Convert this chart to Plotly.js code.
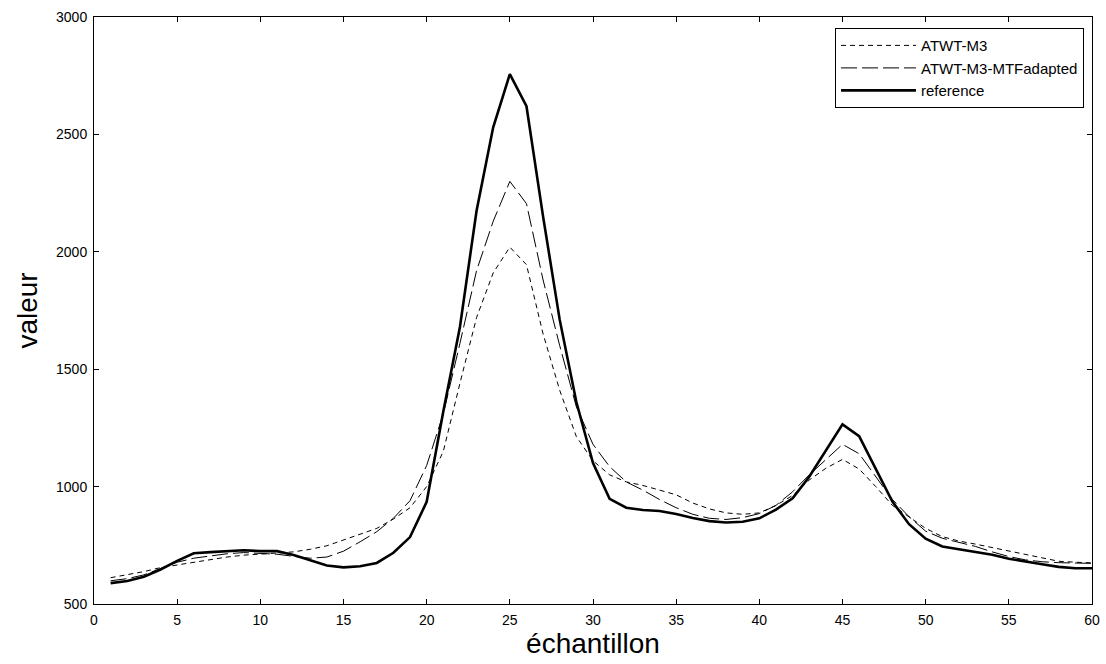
<!DOCTYPE html>
<html>
<head>
<meta charset="utf-8">
<script src="https://cdn.plot.ly/plotly-3.0.1.min.js"></script>
<style>html,body{margin:0;padding:0;background:#fff;}#chart{width:1106px;height:664px;}</style>
</head>
<body>
<div id="chart"></div>
<script>
const samples = Array.from({length: 60}, (_, i) => i + 1);

const atwtM3 = [612, 625, 638, 655, 666, 678, 690, 700, 708, 714,
  717, 722, 733, 748, 772, 797, 822, 862, 910, 1000,
  1150, 1440, 1720, 1910, 2020, 1945, 1650, 1410, 1213, 1110,
  1050, 1020, 1005, 985, 965, 930, 905, 888, 882, 888,
  920, 962, 1028, 1078, 1116, 1075, 1000, 920, 870, 822,
  787, 768, 755, 740, 728, 710, 695, 682, 678, 675];

const atwtM3Mtf = [599, 608, 624, 652, 678, 695, 704, 714, 719, 716,
  712, 703, 695, 700, 725, 765, 808, 865, 940, 1090,
  1310, 1610, 1920, 2130, 2300, 2205, 1880, 1600, 1340, 1180,
  1085, 1020, 985, 945, 910, 882, 865, 860, 868, 885,
  920, 978, 1050, 1115, 1180, 1140, 1045, 945, 872, 810,
  780, 762, 745, 722, 702, 688, 680, 676, 674, 673];

const reference = [589, 598, 616, 647, 684, 716, 721, 725, 729, 725,
  725, 709, 685, 664, 656, 661, 675, 718, 785, 935,
  1320, 1680, 2175, 2530, 2757, 2620, 2150, 1710, 1360, 1100,
  948, 910, 900, 896, 883, 866, 853, 847, 850, 865,
  902, 950, 1042, 1156, 1265, 1215, 1074, 936, 840, 778,
  745, 733, 721, 710, 693, 680, 669, 658, 652, 652];

const seriesNames = ['ATWT-M3', 'ATWT-M3-MTFadapted', 'reference'];
const xTicks = [0, 5, 10, 15, 20, 25, 30, 35, 40, 45, 50, 55, 60];
const yTicks = [500, 1000, 1500, 2000, 2500, 3000];

const FONT = 'Liberation Sans, Arial, sans-serif';

const traces = [
  {x: samples, y: atwtM3, name: seriesNames[0], mode: 'lines', line: {color: '#000', width: 1, dash: '5px,4px'}},
  {x: samples, y: atwtM3Mtf, name: seriesNames[1], mode: 'lines', line: {color: '#000', width: 1, dash: '16px,5px'}},
  {x: samples, y: reference, name: seriesNames[2], mode: 'lines', line: {color: '#000', width: 2.6}}
];

const axisCommon = {
  showgrid: false, zeroline: false, showline: true, linecolor: '#000', linewidth: 1,
  mirror: 'ticks', ticks: 'inside', ticklen: 5, tickcolor: '#000', tickwidth: 1,
  ticklabelstandoff: 3,
  tickfont: {family: FONT, size: 14, color: '#000'}
};

const layout = {
  width: 1106, height: 664,
  margin: {l: 94, r: 14, t: 17, b: 60},
  paper_bgcolor: '#fff', plot_bgcolor: '#fff',
  showlegend: true,
  legend: {
    x: 0.992, xanchor: 'right', y: 0.981, yanchor: 'top',
    bgcolor: '#fff', bordercolor: '#000', borderwidth: 1,
    font: {family: FONT, size: 15, color: '#000'},
    tracegroupgap: 0, itemwidth: 75
  },
  xaxis: Object.assign({}, axisCommon, {
    range: [0, 60], tickvals: xTicks, ticktext: xTicks.map(String),
    title: {text: 'échantillon', font: {family: FONT, size: 28, color: '#000'}, standoff: 4}
  }),
  yaxis: Object.assign({}, axisCommon, {
    range: [500, 3000], tickvals: yTicks, ticktext: yTicks.map(String),
    title: {text: 'valeur', font: {family: FONT, size: 28, color: '#000'}, standoff: 10}
  })
};

Plotly.newPlot('chart', traces, layout, {displayModeBar: false, staticPlot: true});
</script>
</body>
</html>
